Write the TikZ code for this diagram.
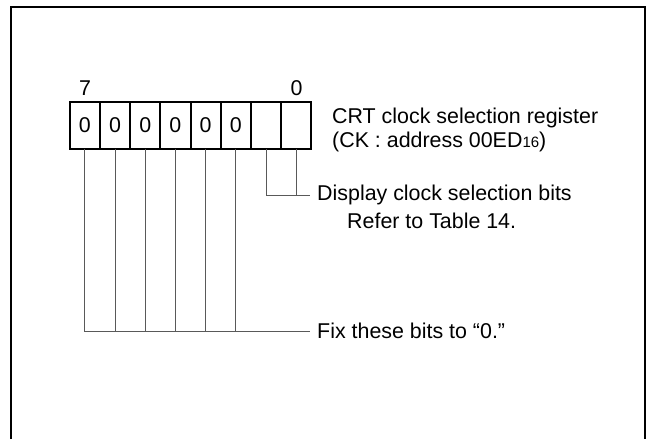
\documentclass[tikz,border=0pt]{standalone}
\usepackage{fontspec}
\setmainfont{Liberation Sans}
\usetikzlibrary{positioning}
\begin{document}
\begin{tikzpicture}[x=0.5pt, y=-0.5pt,
    every node/.style={font=\fontsize{10.7}{12}\selectfont},
    cell/.style={draw, line width=1pt, minimum width=15.1pt, minimum height=23.35pt,
      inner sep=0pt, outer sep=0pt},
    bitline/.style={draw=black!65, line width=0.45pt},
    lbl/.style={anchor=west, inner sep=3.4pt}]
  \useasboundingbox (0,0) rectangle (647,439);
  % frame, open at the bottom
  \draw[line width=1.2pt] (11,439) -- (11,7) -- (645,7) -- (645,439);

  % Register cells b7 ... b0
  \node[cell] (b7) at (84.8,125.6) {0};
  \foreach \i/\j/\v in {6/7/0,5/6/0,4/5/0,3/4/0,2/3/0,1/2/,0/1/} {
     \node[cell, right=0pt of b\j] (b\i) {\v};
  }
  \node (msb) at (85,88) {7};
  \node (lsb) at (296.5,88) {0};
  \node[lbl, align=left] (reg) at (325,130)
    {CRT clock selection register\\(CK : address 00ED{\fontsize{7.5}{8}\selectfont 16})};

  % Display clock selection bits
  \node[lbl] (dsp) at (310,195) {Display clock selection bits};
  \node[lbl, below right=-3pt and 15pt of dsp.south west, anchor=north west] (tbl)
    {Refer to Table 14.};
  \draw[bitline] (b1.south) |- (dsp.west);
  \draw[bitline] (b0.south) -- (b0.south |- dsp.west);

  % Fixed bits
  \node[lbl] (fix) at (310,331) {Fix these bits to “0.”};
  \draw[bitline] (b7.south) |- (fix.west);
  \foreach \i in {6,5,4,3,2} {
     \draw[bitline] (b\i.south) -- (b\i.south |- fix.west);
  }
\end{tikzpicture}
\end{document}
